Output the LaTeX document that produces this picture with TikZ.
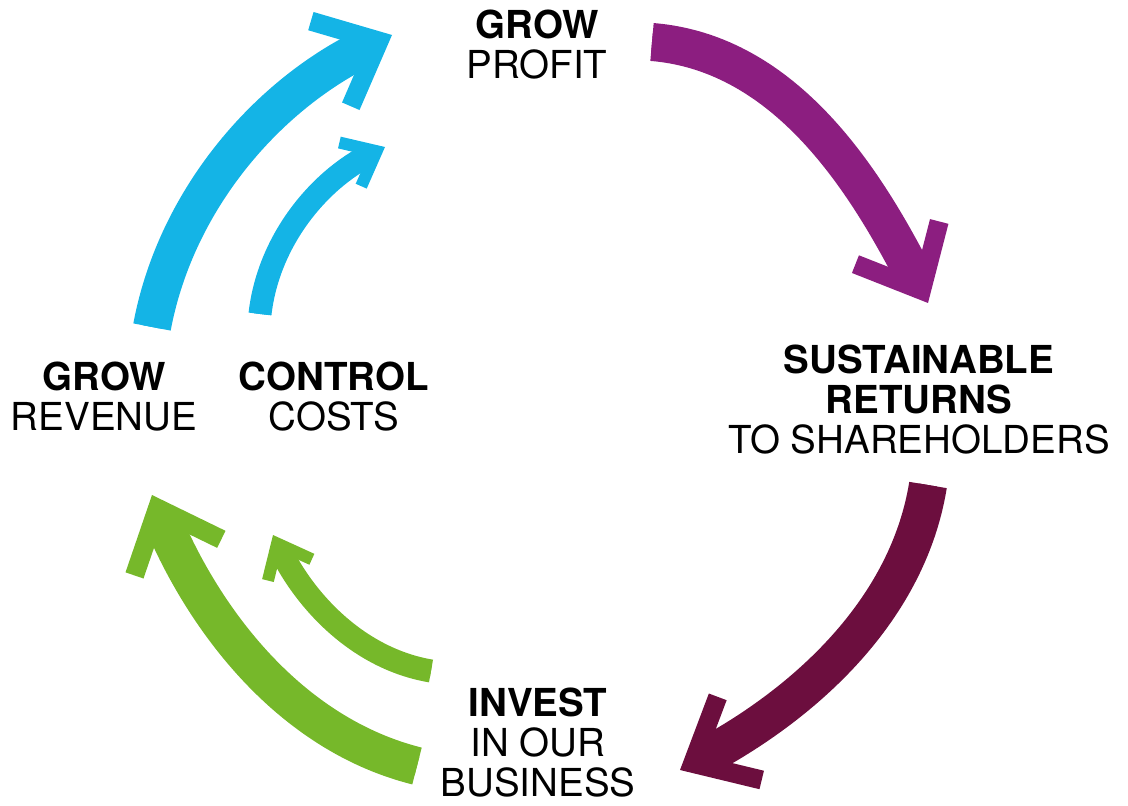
\documentclass[tikz,border=0pt]{standalone}
\usepackage{fontspec}
\setmainfont{TeX Gyre Heros}
\usetikzlibrary{arrows.meta}
\definecolor{revblue}{RGB}{20,180,230}
\definecolor{profitpurple}{RGB}{140,30,128}
\definecolor{returnmaroon}{RGB}{108,14,62}
\definecolor{investgreen}{RGB}{118,184,42}

\begin{document}
\begin{tikzpicture}[x=0.025cm, y=-0.025cm,
    every node/.style={inner sep=0pt, outer sep=0pt, align=center, anchor=north,
      font=\fontsize{27.4}{28.45}\selectfont},
    bigarrow/.style={draw=#1, line width=0.475cm,
      -{Straight Barb[sharp, length=1.33cm, width=2.35cm]},
      preaction={draw=#1, -, line width=0.95cm, shorten >=0.625cm}},
    smallarrow/.style={draw=#1, line width=0.3cm,
      -{Straight Barb[sharp, length=0.735cm, width=1.22cm]},
      preaction={draw=#1, -, line width=0.575cm, shorten >=0.4cm}}]
\useasboundingbox (0,0) rectangle (1128,806);

% labels
\node (profit) at (537,10) {\textbf{GROW}\\PROFIT};
\node (revenue) at (104,362) {\textbf{GROW}\\REVENUE};
\node (costs) at (334,362) {\textbf{CONTROL}\\COSTS};
\node (returns) at (919,345) {\textbf{SUSTAINABLE}\\\textbf{RETURNS}\\TO SHAREHOLDERS};
\node (invest) at (538,688) {\textbf{INVEST}\\IN OUR\\BUSINESS};

% arrow ends
\coordinate (revS) at (152,327);
\coordinate (revT) at (392,35);
\coordinate (costS) at (260,314);
\coordinate (costT) at (385,147);
\coordinate (profitS) at (652,42);
\coordinate (profitT) at (928,303);
\coordinate (returnS) at (928,485);
\coordinate (returnT) at (680,770);
\coordinate (investS) at (417,766);
\coordinate (investT) at (152,495);
\coordinate (smallS) at (431,671);
\coordinate (smallT) at (273,535);

% cycle
\draw[bigarrow=revblue] (revS) .. controls (176.7,195.9) and (271.3,91.6) .. (revT);
\draw[smallarrow=revblue] (costS) .. controls (268.4,240.5) and (318.8,180.1) .. (costT);
\draw[bigarrow=profitpurple] (profitS) .. controls (786.8,53) and (866.6,182.5) .. (profitT);
\draw[bigarrow=returnmaroon] (returnS) .. controls (906.8,615.9) and (797.2,708) .. (returnT);
\draw[bigarrow=investgreen] (investS) .. controls (288,733.6) and (203.1,618) .. (investT);
\draw[smallarrow=investgreen] (smallS) .. controls (358.3,658.8) and (305.1,601.3) .. (smallT);
\end{tikzpicture}
\end{document}
